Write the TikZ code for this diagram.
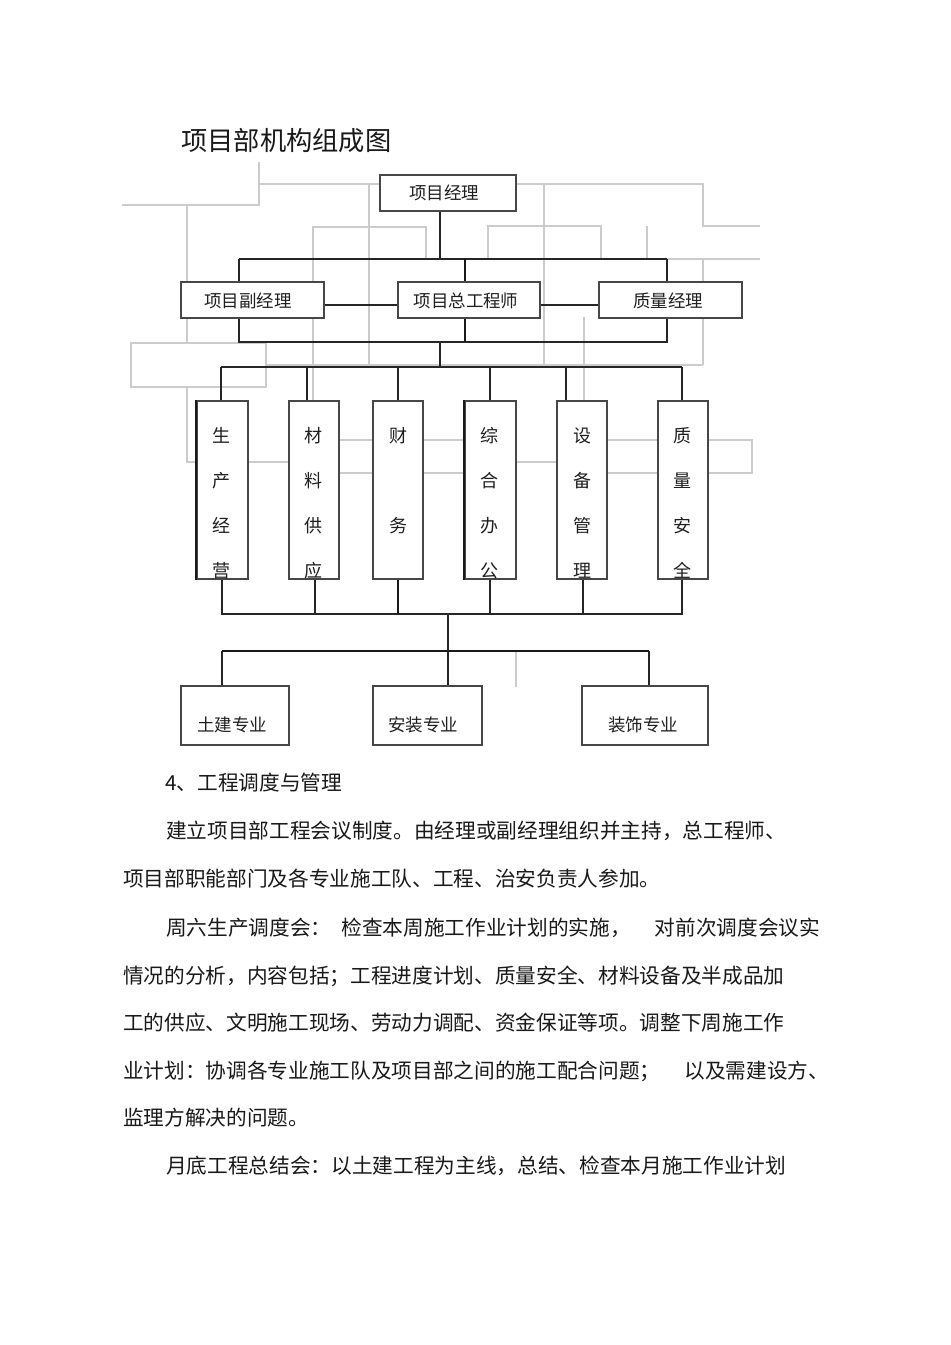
\documentclass[tikz,border=0pt]{standalone}
\usepackage{fontspec}
\setmainfont{Noto Sans CJK SC}
\newfontfamily\cjk{Noto Sans CJK SC}
\begin{document}
\begin{tikzpicture}[x=0.75pt,y=-0.75pt,
  dk/.style={draw=black!85, line width=0.9pt},
  thk/.style={draw=black!90, line width=1.6pt},
  gl/.style={draw=black!20, line width=1pt},
  bx/.style={draw=black!72, line width=1.1pt, fill=white, inner sep=0pt},
  lbl/.style={inner sep=0pt, text=black!88, font=\cjk\fontsize{13.1pt}{13.1pt}\selectfont},
  vlbl/.style={inner sep=0pt, text=black!88, align=center, font=\cjk\fontsize{13.5pt}{33.75pt}\selectfont},
  body/.style={inner sep=0pt, anchor=west, text=black!90, font=\cjk\fontsize{15.5pt}{15.5pt}\selectfont}
]
\fill[white] (0,0) rectangle (950,1345);
\useasboundingbox (0,0) rectangle (950,1345);

% ---- light grey scan lines ----
\draw[gl] (259,162) -- (259,205) -- (122,205);
\draw[gl] (259,184) -- (380,184);
\draw[gl] (369,184) -- (369,365);
\draw[gl] (187,205) -- (187,343);
\draw[gl] (187,387) -- (187,462) -- (197,462);
\draw[gl] (131,343) rectangle (266,387);
\draw[gl] (313,401) -- (313,227) -- (426,227) -- (426,259);
\draw[gl] (266,365) -- (703,365);
\draw[gl] (516,184) -- (703,184) -- (703,226) -- (760,226);
\draw[gl] (544,184) -- (544,365);
\draw[gl] (488,259) -- (488,226) -- (601,226) -- (601,259);
\draw[gl] (647,259) -- (647,226);
\draw[gl] (667,259) -- (760,259);
\draw[gl] (703,259) -- (703,365);
\draw[gl] (584,317) -- (584,401);
\draw[gl] (248,462) -- (289,462);
\draw[gl] (339,440) -- (373,440) (339,473) -- (373,473);
\draw[gl] (423,440) -- (465,440) (423,473) -- (465,473);
\draw[gl] (516,462) -- (557,462);
\draw[gl] (607,440) -- (658,440) (607,473) -- (658,473);
\draw[gl] (708,440) -- (752,440) -- (752,473) -- (708,473);
\draw[gl] (516,651) -- (516,687);

% ---- title ----
\node[inner sep=0pt, anchor=west, text=black!90, font=\cjk\fontsize{19.7pt}{19.7pt}\selectfont] (title) at (181,141) {项目部机构组成图};

% ---- top level boxes ----
\node[bx, minimum width=136*0.75pt, minimum height=36*0.75pt] (pm) at (448,193) {};
\node[lbl] (pmt) at (444,193) {项目经理};
\node[bx, minimum width=143*0.75pt, minimum height=36*0.75pt] (pdm) at (252.5,300) {};
\node[lbl] (pdmt) at (248,301) {项目副经理};
\node[bx, minimum width=142*0.75pt, minimum height=36*0.75pt] (pce) at (469,300) {};
\node[lbl] (pcet) at (466,301) {项目总工程师};
\node[bx, minimum width=143*0.75pt, minimum height=36*0.75pt] (qm) at (670.5,300) {};
\node[lbl] (qmt) at (668,301) {质量经理};

% ---- department boxes ----
\node[bx, minimum width=51*0.75pt, minimum height=178*0.75pt] (m1) at (222.5,490) {};
\node[bx, minimum width=50*0.75pt, minimum height=178*0.75pt] (m2) at (314,490) {};
\node[bx, minimum width=50*0.75pt, minimum height=178*0.75pt] (m3) at (398,490) {};
\node[bx, minimum width=51*0.75pt, minimum height=178*0.75pt] (m4) at (490.5,490) {};
\node[bx, minimum width=50*0.75pt, minimum height=178*0.75pt] (m5) at (582,490) {};
\node[bx, minimum width=50*0.75pt, minimum height=178*0.75pt] (m6) at (683,490) {};
\draw[thk] (m1.north west) -- (m1.south west);
\draw[thk] (m4.north west) -- (m4.south west);
\node[vlbl] (m1t) at (221,503) {生\\产\\经\\营};
\node[vlbl] (m2t) at (313,503) {材\\料\\供\\应};
\node[vlbl] (m3t) at (398,503) {财\\\phantom{务}\\务\\\phantom{务}};
\node[vlbl] (m4t) at (489,503) {综\\合\\办\\公};
\node[vlbl] (m5t) at (582,503) {设\\备\\管\\理};
\node[vlbl] (m6t) at (682,503) {质\\量\\安\\全};

% ---- specialty boxes ----
\node[bx, minimum width=108*0.75pt, minimum height=59*0.75pt] (ce) at (235,715.5) {};
\node[lbl] (cet) at (232,725) {土建专业};
\node[bx, minimum width=109*0.75pt, minimum height=59*0.75pt] (ie) at (427.5,715.5) {};
\node[lbl] (iet) at (423,725) {安装专业};
\node[bx, minimum width=126*0.75pt, minimum height=59*0.75pt] (de) at (645,715.5) {};
\node[lbl] (det) at (643,725) {装饰专业};

% ---- connectors ----
\coordinate (b1M) at (440,259);
\coordinate (b1L) at (239,259);
\coordinate (b1C) at (465,259);
\coordinate (b1R) at (667,259);
\coordinate (b2M) at (440,342);
\coordinate (b2L) at (239,342);
\coordinate (b2C) at (465,342);
\coordinate (b2R) at (667,342);
\draw[dk] (pm.south -| b1M) -- (b1M);
\draw[dk] (b1L) -- (b1R);
\draw[dk] (b1L) -- (pdm.north -| b1L);
\draw[thk] (b1C) -- (pce.north -| b1C);
\draw[dk] (b1R) -- (qm.north -| b1R);
\draw[dk] (pdm.south -| b2L) -- (b2L) -- (b2R) -- (qm.south -| b2R);
\draw[thk] (pce.south -| b2C) -- (b2C);
\draw[dk] ([yshift=-3.75pt]pdm.east) -- ([yshift=-3.75pt]pce.west);
\draw[dk] ([yshift=-3.75pt]pce.east) -- ([yshift=-3.75pt]qm.west);

\coordinate (b3M) at (440,367);
\coordinate (c1) at (221,367);
\coordinate (c2) at (307,367);
\coordinate (c3) at (398,367);
\coordinate (c4) at (490,367);
\coordinate (c5) at (566,367);
\coordinate (c6) at (682,367);
\draw[dk] (b2M) -- (b3M);
\draw[dk] (c1) -- (c6);
\draw[dk] (c1) -- (m1.north -| c1);
\draw[dk] (c2) -- (m2.north -| c2);
\draw[dk] (c3) -- (m3.north -| c3);
\draw[dk] (c4) -- (m4.north -| c4);
\draw[dk] (c5) -- (m5.north -| c5);
\draw[dk] (c6) -- (m6.north -| c6);

\coordinate (d1) at (222,614);
\coordinate (d2) at (315,614);
\coordinate (d3) at (398,614);
\coordinate (d4) at (490,614);
\coordinate (d5) at (583,614);
\coordinate (d6) at (682,614);
\coordinate (dM) at (448,614);
\draw[dk] (m1.south -| d1) -- (d1) -- (d6) -- (m6.south -| d6);
\draw[dk] (m2.south -| d2) -- (d2);
\draw[thk] (m3.south -| d3) -- (d3);
\draw[dk] (m4.south -| d4) -- (d4);
\draw[dk] (m5.south -| d5) -- (d5);
\draw[dk] (dM) -- (ie.north -| dM);

\coordinate (e1) at (222,651);
\coordinate (e3) at (649,651);
\draw[thk] (e1) -- (e3);
\draw[dk] (e1) -- (ce.north -| e1);
\draw[dk] (e3) -- (de.north -| e3);

% ---- body text ----
\node[body] (h4) at (165,783) {4、工程调度与管理};
\node[body] (p1) at (166,831) {建立项目部工程会议制度。由经理或副经理组织并主持，总工程师、};
\node[body] (p2) at (123,879) {项目部职能部门及各专业施工队、工程、治安负责人参加。};
\node[body] (p3) at (166,928) {周六生产调度会：\hspace{7.5pt}检查本周施工作业计划的实施，\hspace{18pt}对前次调度会议实};
\node[body] (p4) at (123,976) {情况的分析，内容包括；工程进度计划、质量安全、材料设备及半成品加};
\node[body] (p5) at (123,1023) {工的供应、文明施工现场、劳动力调配、资金保证等项。调整下周施工作};
\node[body] (p6) at (123,1071) {业计划：协调各专业施工队及项目部之间的施工配合问题；\hspace{18pt}以及需建设方、};
\node[body] (p7) at (123,1118) {监理方解决的问题。};
\node[body] (p8) at (166,1166) {月底工程总结会：以土建工程为主线，总结、检查本月施工作业计划};
\end{tikzpicture}
\end{document}
